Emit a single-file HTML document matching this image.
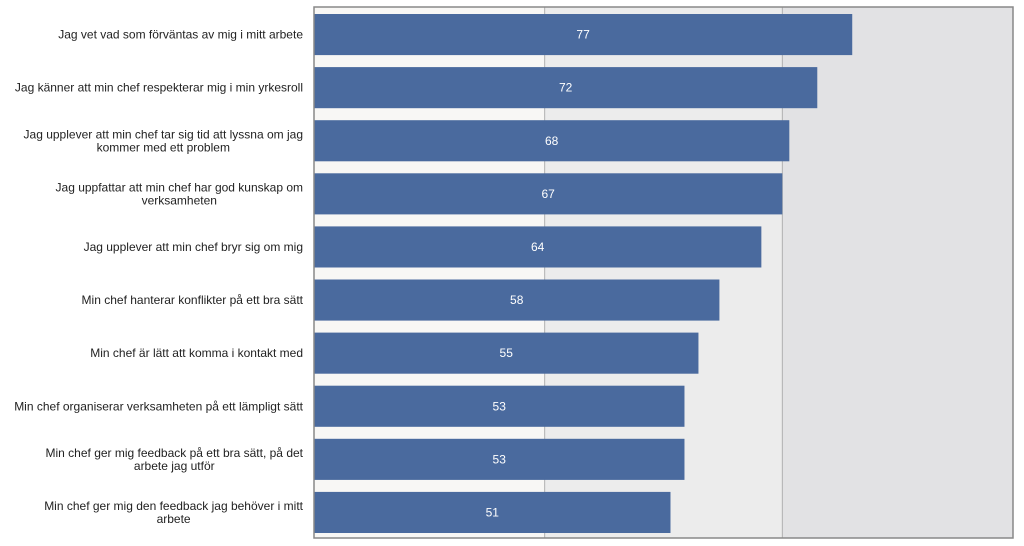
<!DOCTYPE html>
<html><head><meta charset="utf-8"><style>
html,body{margin:0;padding:0;background:#fff;width:1024px;height:546px;overflow:hidden}
svg{display:block;font-family:"Liberation Sans",sans-serif}
</style></head><body>
<svg id="chart" width="1024" height="546" viewBox="0 0 1024 546"></svg>
<script>
const categories = [
  ["Jag vet vad som förväntas av mig i mitt arbete"],
  ["Jag känner att min chef respekterar mig i min yrkesroll"],
  ["Jag upplever att min chef tar sig tid att lyssna om jag","kommer med ett problem"],
  ["Jag uppfattar att min chef har god kunskap om","verksamheten"],
  ["Jag upplever att min chef bryr sig om mig"],
  ["Min chef hanterar konflikter på ett bra sätt"],
  ["Min chef är lätt att komma i kontakt med"],
  ["Min chef organiserar verksamheten på ett lämpligt sätt"],
  ["Min chef ger mig feedback på ett bra sätt, på det","arbete jag utför"],
  ["Min chef ger mig den feedback jag behöver i mitt","arbete"]
];
const values = [77,72,68,67,64,58,55,53,53,51];
const bandEdges = [0,33,67,100];
const bandColors = ["#f8f7f5","#ececec","#e2e2e4"];

const svg = document.getElementById('chart');
const NS = 'http://www.w3.org/2000/svg';
const L=314, R=1013, T=7, B=538;
const x = v => L + (R-L)*v/100;
const rowH = (B-T)/categories.length;
const y = i => T + i*rowH;
function mk(tag, attrs){const e=document.createElementNS(NS,tag);for(const k in attrs)e.setAttribute(k,attrs[k]);svg.appendChild(e);return e;}

for(let i=0;i<bandColors.length;i++){
  const r=mk('rect',{x:x(bandEdges[i]),y:T,width:x(bandEdges[i+1])-x(bandEdges[i]),height:B-T,fill:bandColors[i]});
  
  
}
for(let i=1;i<bandEdges.length-1;i++){
  const l=mk('line',{x1:x(bandEdges[i]),x2:x(bandEdges[i]),y1:T,y2:B,stroke:'#b0b0b0','stroke-width':1});
  
  
}
values.forEach((v,i)=>{
  const top=y(i)+7, h=rowH-12;
  const r=mk('rect',{x:L,y:top,width:x(v)-L,height:h,fill:'#4a6a9e'});
  
  
  const t=mk('text',{x:(L+x(v))/2,y:top+h/2+4,'text-anchor':'middle','font-size':12,fill:'#ffffff'});
  t.textContent=v;
  
  
  const lines=categories[i];
  const cy=top+h/2;
  const t2=mk('text',{'text-anchor':'middle','font-size':12,fill:'#222'});
  
  
  const spans=[];
  lines.forEach((ln,j)=>{
    const ts=document.createElementNS(NS,'tspan');
    ts.setAttribute('y',cy+4+(j-(lines.length-1)/2)*13);
    ts.textContent=ln;
    t2.appendChild(ts);
    spans.push(ts);
  });
  let w=0;
  spans.forEach(s=>{w=Math.max(w,s.getComputedTextLength());});
  spans.forEach(s=>s.setAttribute('x',303-w/2));
});
const f=mk('rect',{x:L,y:T,width:R-L,height:B-T,fill:'none',stroke:'#888','stroke-width':1.5});


</script>
</body></html>
